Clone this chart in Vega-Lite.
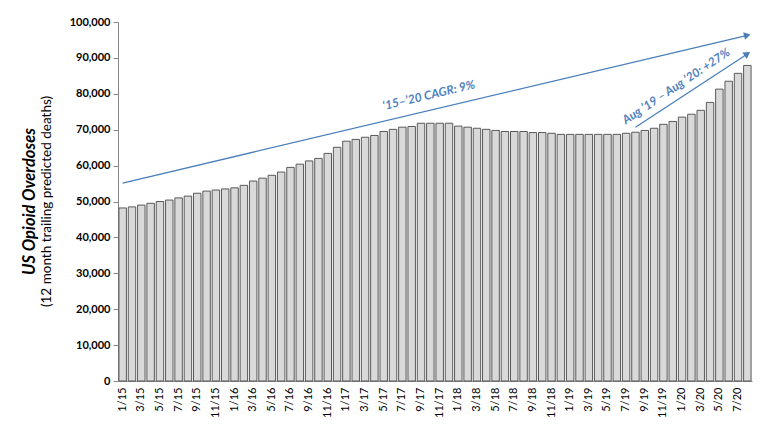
{
  "$schema": "https://vega.github.io/schema/vega-lite/v6.json",
  "autosize": "none",
  "width": 634,
  "height": 359,
  "padding": {"left": 118, "top": 22, "right": 27, "bottom": 53},
  "title": {
    "text": "US Opioid Overdoses",
    "subtitle": "(12 month trailing predicted deaths)",
    "orient": "left",
    "anchor": "middle",
    "offset": 16,
    "font": "Lato",
    "fontSize": 16.5,
    "fontWeight": "bold",
    "fontStyle": "italic",
    "color": "#000000",
    "subtitleFont": "Lato",
    "subtitleFontSize": 13.5,
    "subtitleColor": "#000000",
    "subtitlePadding": 1
  },
  "config": {
    "view": {"stroke": null},
    "font": "Lato",
    "axis": {"grid": false, "labelFont": "Lato", "titleFont": "Lato"}
  },
  "datasets": {
    "deaths": [
      {"d": "2015-01-15", "v": 48200}, {"d": "2015-02-15", "v": 48500}, {"d": "2015-03-15", "v": 49000},
      {"d": "2015-04-15", "v": 49500}, {"d": "2015-05-15", "v": 50000}, {"d": "2015-06-15", "v": 50400},
      {"d": "2015-07-15", "v": 51000}, {"d": "2015-08-15", "v": 51500}, {"d": "2015-09-15", "v": 52300},
      {"d": "2015-10-15", "v": 52900}, {"d": "2015-11-15", "v": 53200}, {"d": "2015-12-15", "v": 53500},
      {"d": "2016-01-15", "v": 53800}, {"d": "2016-02-15", "v": 54500}, {"d": "2016-03-15", "v": 55700},
      {"d": "2016-04-15", "v": 56500}, {"d": "2016-05-15", "v": 57300}, {"d": "2016-06-15", "v": 58200},
      {"d": "2016-07-15", "v": 59500}, {"d": "2016-08-15", "v": 60400}, {"d": "2016-09-15", "v": 61300},
      {"d": "2016-10-15", "v": 62000}, {"d": "2016-11-15", "v": 63400}, {"d": "2016-12-15", "v": 65100},
      {"d": "2017-01-15", "v": 66800}, {"d": "2017-02-15", "v": 67300}, {"d": "2017-03-15", "v": 67900},
      {"d": "2017-04-15", "v": 68400}, {"d": "2017-05-15", "v": 69500}, {"d": "2017-06-15", "v": 70100},
      {"d": "2017-07-15", "v": 70700}, {"d": "2017-08-15", "v": 70900}, {"d": "2017-09-15", "v": 71800},
      {"d": "2017-10-15", "v": 71800}, {"d": "2017-11-15", "v": 71800}, {"d": "2017-12-15", "v": 71800},
      {"d": "2018-01-15", "v": 71000}, {"d": "2018-02-15", "v": 70700}, {"d": "2018-03-15", "v": 70400},
      {"d": "2018-04-15", "v": 70100}, {"d": "2018-05-15", "v": 69800}, {"d": "2018-06-15", "v": 69500},
      {"d": "2018-07-15", "v": 69500}, {"d": "2018-08-15", "v": 69500}, {"d": "2018-09-15", "v": 69200},
      {"d": "2018-10-15", "v": 69200}, {"d": "2018-11-15", "v": 69000}, {"d": "2018-12-15", "v": 68700},
      {"d": "2019-01-15", "v": 68700}, {"d": "2019-02-15", "v": 68700}, {"d": "2019-03-15", "v": 68700},
      {"d": "2019-04-15", "v": 68700}, {"d": "2019-05-15", "v": 68700}, {"d": "2019-06-15", "v": 68700},
      {"d": "2019-07-15", "v": 69000}, {"d": "2019-08-15", "v": 69300}, {"d": "2019-09-15", "v": 69800},
      {"d": "2019-10-15", "v": 70400}, {"d": "2019-11-15", "v": 71500}, {"d": "2019-12-15", "v": 72300},
      {"d": "2020-01-15", "v": 73500}, {"d": "2020-02-15", "v": 74300}, {"d": "2020-03-15", "v": 75400},
      {"d": "2020-04-15", "v": 77600}, {"d": "2020-05-15", "v": 81300}, {"d": "2020-06-15", "v": 83500},
      {"d": "2020-07-15", "v": 85700}, {"d": "2020-08-15", "v": 87900}
    ],
    "arrows": [
      {"a": "cagr", "d": "2015-01-15", "v": 55150},
      {"a": "cagr", "d": "2020-08-15", "v": 96300},
      {"a": "yoy", "d": "2019-08-15", "v": 70700},
      {"a": "yoy", "d": "2020-08-15", "v": 91100}
    ]
  },
  "encoding": {
    "x": {
      "field": "d", "timeUnit": "yearmonth", "type": "ordinal",
      "scale": {"paddingInner": 0.2, "paddingOuter": 0.1},
      "axis": {
        "title": null, "labelAngle": 270, "labelOverlap": false, "ticks": false,
        "labelExpr": "month(datum.value) % 2 == 0 ? timeFormat(datum.value, '%-m/%y') : ''",
        "labelFontSize": 11, "labelColor": "#000000", "labelPadding": 6,
        "domainColor": "#868686"
      }
    },
    "y": {
      "field": "v", "type": "quantitative",
      "scale": {"domain": [0, 100000]},
      "axis": {
        "title": null,
        "values": [0, 10000, 20000, 30000, 40000, 50000, 60000, 70000, 80000, 90000, 100000],
        "labelOverlap": false,
        "format": ",d", "labelFontSize": 11, "labelFontWeight": "bold", "labelColor": "#000000",
        "tickSize": 5, "tickColor": "#868686", "domainColor": "#868686", "labelPadding": 3
      }
    }
  },
  "layer": [
    {
      "data": {"name": "deaths"},
      "mark": {"type": "bar", "fill": "#D9D9D9", "stroke": "#595959", "strokeWidth": 1}
    },
    {
      "data": {"name": "arrows"},
      "mark": {"type": "line", "color": "#4A7EBB", "strokeWidth": 1.3},
      "encoding": {"detail": {"field": "a"}}
    },
    {
      "data": {"name": "arrows"},
      "transform": [{"filter": "datum.a == 'cagr' && year(datum.d) == 2020"}],
      "mark": {"type": "point", "shape": "triangle-right", "filled": true, "color": "#4A7EBB", "opacity": 1, "size": 60, "angle": -13.4}
    },
    {
      "data": {"name": "arrows"},
      "transform": [{"filter": "datum.a == 'yoy' && year(datum.d) == 2020"}],
      "mark": {"type": "point", "shape": "triangle-right", "filled": true, "color": "#4A7EBB", "opacity": 1, "size": 60, "angle": -33.7}
    },
    {
      "data": {"values": [{"t": "‘15–’20 CAGR: 9%", "d": "2017-09-15", "v": 79100}]},
      "mark": {"type": "text", "angle": -13.4, "fontSize": 12, "fontWeight": "bold", "fontStyle": "italic", "color": "#4F81BD", "dx": 8, "baseline": "middle"},
      "encoding": {"text": {"field": "t"}}
    },
    {
      "data": {"values": [{"t": "Aug ’19 – Aug ’20: +27%", "d": "2019-12-15", "v": 81500}]},
      "mark": {"type": "text", "angle": -33.7, "fontSize": 12, "fontWeight": "bold", "fontStyle": "italic", "color": "#4F81BD", "dx": 4, "baseline": "middle"},
      "encoding": {"text": {"field": "t"}}
    }
  ]
}
